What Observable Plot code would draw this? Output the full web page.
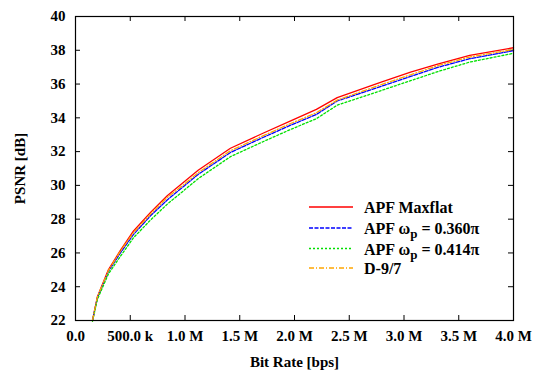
<!DOCTYPE html>
<html>
<head>
<meta charset="utf-8">
<script src="https://cdn.jsdelivr.net/npm/d3@7"></script>
<script src="https://cdn.jsdelivr.net/npm/@observablehq/plot@0.6"></script>
<style>
  html, body { margin: 0; padding: 0; background: #fff; }
  #wrap { position: relative; width: 534px; height: 370px; }
  #legend { position: absolute; left: 0; top: 0; }
</style>
</head>
<body>
<div id="wrap"></div>
<script>
// Bit rate in Mbps
const bitRate = [0.155, 0.2, 0.3, 0.41, 0.53, 0.685, 0.84, 0.99, 1.12, 1.415, 1.717, 1.96, 2.2, 2.39, 2.785, 3.06, 3.315, 3.6, 4.0];
const apfMaxflat = [22.0, 23.4, 25.0, 26.15, 27.3, 28.4, 29.4, 30.2, 30.9, 32.2, 33.1, 33.8, 34.5, 35.2, 36.1, 36.7, 37.2, 37.7, 38.15];
const apf0360 = [22.0, 23.35, 24.9, 26.0, 27.1, 28.2, 29.15, 29.95, 30.65, 31.95, 32.85, 33.55, 34.2, 35.0, 35.85, 36.45, 37.0, 37.5, 37.98];
const apf0414 = [21.95, 23.25, 24.75, 25.8, 26.9, 27.95, 28.9, 29.7, 30.4, 31.7, 32.6, 33.3, 33.95, 34.75, 35.6, 36.2, 36.75, 37.3, 37.82];
const d97 = [22.0, 23.4, 24.95, 26.1, 27.2, 28.3, 29.3, 30.05, 30.75, 32.05, 32.95, 33.65, 34.3, 35.05, 35.95, 36.55, 37.1, 37.6, 38.05];

const xTicks = [0, 0.5, 1, 1.5, 2, 2.5, 3, 3.5, 4];
const xTickLabels = ["0.0", "500.0 k", "1.0 M", "1.5 M", "2.0 M", "2.5 M", "3.0 M", "3.5 M", "4.0 M"];
const yTicks = [22, 24, 26, 28, 30, 32, 34, 36, 38, 40];

const seriesNames = ["APF Maxflat", "APF ωp = 0.360π", "APF ωp = 0.414π", "D-9/7"];
const seriesValues = [apfMaxflat, apf0360, apf0414, d97];
const seriesColors = ["#ff0000", "#0000ff", "#00e000", "#ffa500"];
const seriesDash = [null, "4,1.5", "2,2", "5,2,1,2"];

const W = 534, H = 370, mL = 75, mR = 21, mT = 16, mB = 50;
const frameW = W - mL - mR, frameH = H - mT - mB, tickLen = 5;
const FONT = "Liberation Serif";

const lineMarks = seriesValues.map((vals, i) =>
  Plot.line(bitRate.map((x, j) => ({x, y: vals[j]})), {
    x: "x", y: "y",
    stroke: seriesColors[i],
    strokeWidth: 1.3,
    strokeDasharray: seriesDash[i]
  })
);

const chart = Plot.plot({
  width: W, height: H,
  marginLeft: mL, marginRight: mR, marginTop: mT, marginBottom: mB,
  style: { fontFamily: FONT, fontSize: "15px", fontWeight: "bold", color: "#000", background: "#fff" },
  x: { domain: [0, 4], ticks: xTicks },
  y: { domain: [22, 40], ticks: yTicks },
  marks: [
    Plot.axisX(xTicks, { anchor: "bottom", tickSize: 0, tickPadding: 10, fontFamily: FONT, tickFormat: (d) => xTickLabels[xTicks.indexOf(d)], label: "Bit Rate [bps]", labelAnchor: "center", labelOffset: 46, labelArrow: "none" }),
    Plot.axisY(yTicks, { anchor: "left", tickSize: 0, tickPadding: 10, fontFamily: FONT, tickFormat: (d) => String(d), label: "PSNR [dB]", labelAnchor: "center", labelOffset: 61, labelArrow: "none" }),
    Plot.ruleX(xTicks, { stroke: "#000", insetTop: frameH - tickLen }),
    Plot.ruleX(xTicks, { stroke: "#000", insetBottom: frameH - tickLen }),
    Plot.ruleY(yTicks, { stroke: "#000", insetRight: frameW - tickLen }),
    Plot.ruleY(yTicks, { stroke: "#000", insetLeft: frameW - tickLen }),
    ...lineMarks,
    Plot.frame({ stroke: "#000", strokeWidth: 1.2 })
  ]
});

// force the serif face on every text node
chart.setAttribute("font-family", FONT);
chart.querySelectorAll("g, text, tspan").forEach((el) => {
  if (el.hasAttribute("font-family")) el.setAttribute("font-family", FONT);
});
chart.querySelectorAll("text").forEach((el) => {
  el.setAttribute("font-family", FONT);
  el.setAttribute("font-weight", "bold");
  el.style.fontFamily = FONT;
});

const wrap = document.getElementById("wrap");
wrap.appendChild(chart);

// Legend overlay (inside plot area, gnuplot style)
const ns = "http://www.w3.org/2000/svg";
const leg = document.createElementNS(ns, "svg");
leg.setAttribute("id", "legend");
leg.setAttribute("width", W);
leg.setAttribute("height", H);
leg.style.pointerEvents = "none";
const rowY = [207, 228, 248.5, 268];
seriesNames.forEach((name, i) => {
  const ln = document.createElementNS(ns, "line");
  ln.setAttribute("x1", 309); ln.setAttribute("x2", 353);
  ln.setAttribute("y1", rowY[i]); ln.setAttribute("y2", rowY[i]);
  ln.setAttribute("stroke", seriesColors[i]);
  ln.setAttribute("stroke-width", 1.3);
  if (seriesDash[i]) ln.setAttribute("stroke-dasharray", seriesDash[i]);
  leg.appendChild(ln);
  const t = document.createElementNS(ns, "text");
  t.setAttribute("x", 364);
  t.setAttribute("y", rowY[i] + 6);
  t.setAttribute("font-size", "16");
  t.setAttribute("font-family", FONT);
  t.setAttribute("font-weight", "bold");
  const m = name.match(/^(APF ω)p( = .*)$/);
  if (m) {
    const a = document.createElementNS(ns, "tspan"); a.textContent = m[1]; t.appendChild(a);
    const s = document.createElementNS(ns, "tspan"); s.textContent = "p"; s.setAttribute("dy", "4"); s.setAttribute("font-size", "13"); t.appendChild(s);
    const b = document.createElementNS(ns, "tspan"); b.textContent = m[2]; b.setAttribute("dy", "-4"); t.appendChild(b);
  } else {
    t.textContent = name;
  }
  leg.appendChild(t);
});
wrap.appendChild(leg);
</script>
</body>
</html>
